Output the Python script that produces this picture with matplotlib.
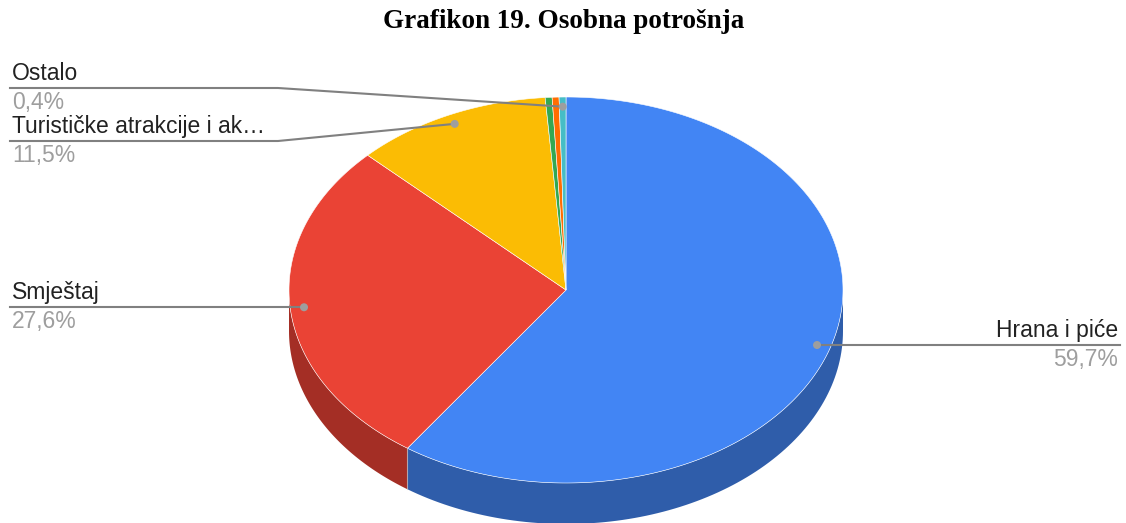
import numpy as np
import matplotlib.pyplot as plt
from matplotlib.patches import Polygon, Circle

# data (clockwise from 12 o'clock)
labels = ['Hrana i piće', 'Smještaj', 'Turističke atrakcije i ak…', 'Prijevoz', 'Kupovina', 'Ostalo']
values = [59.7, 27.6, 11.5, 0.4, 0.4, 0.4]
top_colors = ['#4285F4', '#EA4335', '#FBBC04', '#34A853', '#FF6D01', '#46BDC6']
side_colors = ['#2F5DAA', '#A42E25', '#B08403', '#257A3B', '#B44D00', '#318489']
shown = [0, 1, 2, 5]

fig = plt.figure(figsize=(11.26, 5.23), dpi=100)
ax = fig.add_axes([0, 0, 1, 1])
ax.set_xlim(0, 1126)
ax.set_ylim(523, 0)
ax.axis('off')

cx, cy, rx, ry, depth = 566, 290, 277, 193, 41


def pt(a, r=1.0, dy=0):
    t = np.radians(a)
    return cx + rx * r * np.sin(t), cy - ry * r * np.cos(t) + dy


fracs = np.array(values) / sum(values) * 360
edges = np.concatenate([[0], np.cumsum(fracs)])

# side walls (front half only)
for i in range(len(values)):
    a0, a1 = max(edges[i], 90), min(edges[i + 1], 270)
    if a1 <= a0:
        continue
    aa = np.linspace(a0, a1, 100)
    top = [pt(a) for a in aa]
    bot = [pt(a, dy=depth) for a in aa[::-1]]
    ax.add_patch(Polygon(top + bot, closed=True, fc=side_colors[i], ec='none'))
# cut edges on side
for e in edges:
    if 90 < e < 270:
        x, y = pt(e)
        ax.plot([x, x], [y, y + depth], color='#c8c8c8', lw=0.8, alpha=0.6)

# top faces
for i in range(len(values)):
    aa = np.linspace(edges[i], edges[i + 1], max(3, int(fracs[i] * 2)))
    pts = [(cx, cy)] + [pt(a) for a in aa]
    ax.add_patch(Polygon(pts, closed=True, fc=top_colors[i], ec='white', lw=0.4))

# labels
lc = '#808080'
lab_font = dict(family='Liberation Sans', fontsize=16.5)
for i in shown:
    mid = (edges[i] + edges[i + 1]) / 2
    dx, dy = pt(mid, 0.95)
    ax.add_patch(Circle((dx, dy), 4, fc='#9e9e9e', ec='none', zorder=5))
    pct = f'{values[i]:.1f}%'.replace('.', ',')
    if dx > cx:
        ax.plot([dx, 1120], [dy, dy], color=lc, lw=1.5, zorder=4)
        ax.text(1118, dy - 3, labels[i], ha='right', va='bottom', color='#222222', **lab_font)
        ax.text(1118, dy + 3, pct, ha='right', va='top', color='#9e9e9e', **lab_font)
        continue
    if i == 1:
        ly = dy
        xs, ys = [dx, 10], [dy, dy]
    else:
        ly = {2: 141, 5: 88}[i]
        xs, ys = [dx, 278, 10], [dy, ly, ly]
    ax.plot(xs, ys, color=lc, lw=1.5, zorder=4)
    ax.text(12, ly - 3, labels[i], ha='left', va='bottom', color='#222222', **lab_font)
    ax.text(12, ly + 3, pct, ha='left', va='top', color='#9e9e9e', **lab_font)

ax.text(564, 22, 'Grafikon 19. Osobna potrošnja', ha='center', va='center',
        family='Liberation Serif', fontweight='bold', fontsize=19.5, color='black')

fig.savefig('out.png', dpi=100)
